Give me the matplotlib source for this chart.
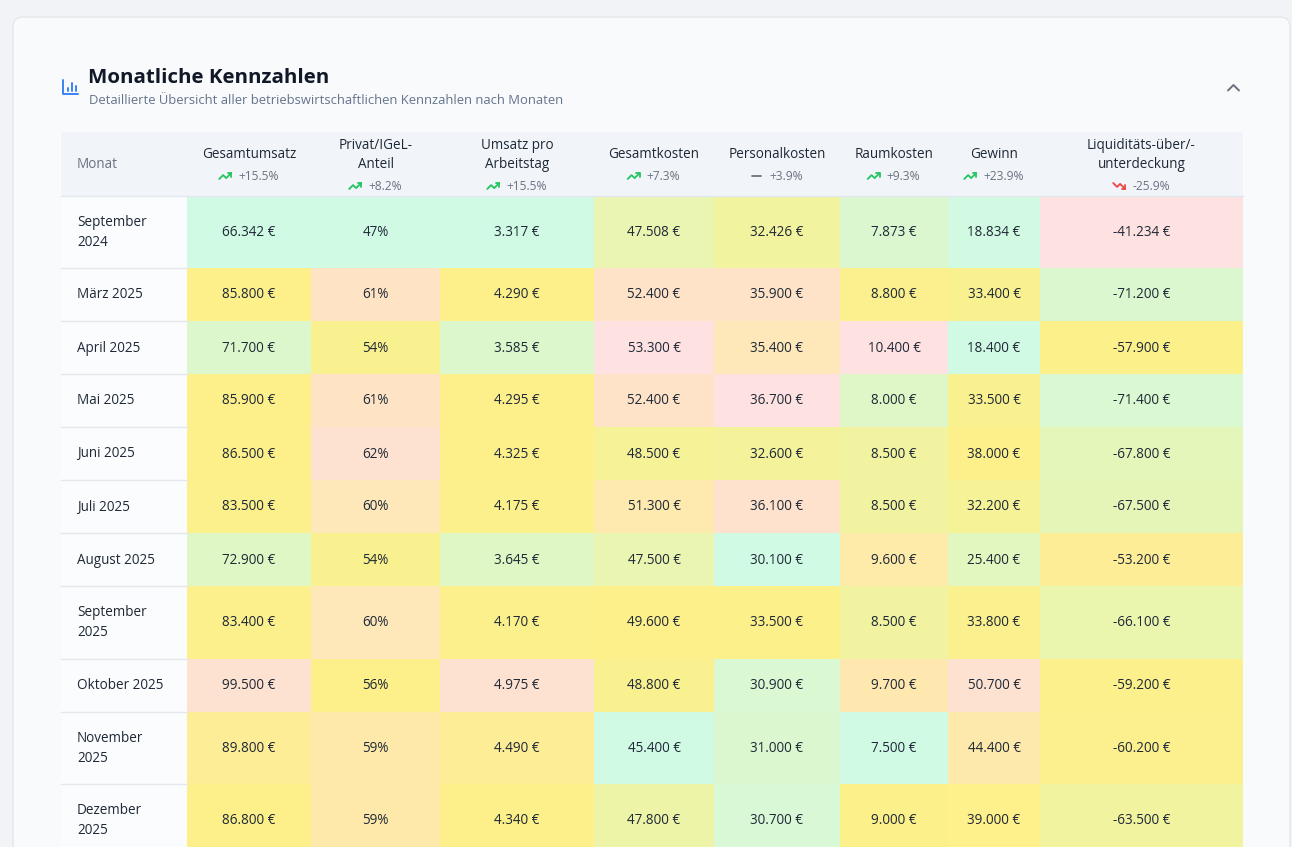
import textwrap

import matplotlib
matplotlib.use("Agg")
import matplotlib.pyplot as plt
from matplotlib.colors import LinearSegmentedColormap, Normalize
from matplotlib.patches import FancyBboxPatch, Rectangle

plt.rcParams["font.family"] = ["Open Sans", "Noto Sans", "DejaVu Sans"]

# ---- data -------------------------------------------------------------
months = ["September 2024", "März 2025", "April 2025", "Mai 2025", "Juni 2025",
          "Juli 2025", "August 2025", "September 2025", "Oktober 2025",
          "November 2025", "Dezember 2025"]
gesamtumsatz = [66342, 85800, 71700, 85900, 86500, 83500, 72900, 83400, 99500, 89800, 86800]
privat_anteil = [47, 61, 54, 61, 62, 60, 54, 60, 56, 59, 59]
umsatz_arbeitstag = [3317, 4290, 3585, 4295, 4325, 4175, 3645, 4170, 4975, 4490, 4340]
gesamtkosten = [47508, 52400, 53300, 52400, 48500, 51300, 47500, 49600, 48800, 45400, 47800]
personalkosten = [32426, 35900, 35400, 36700, 32600, 36100, 30100, 33500, 30900, 31000, 30700]
raumkosten = [7873, 8800, 10400, 8000, 8500, 8500, 9600, 8500, 9700, 7500, 9000]
gewinn = [18834, 33400, 18400, 33500, 38000, 32200, 25400, 33800, 50700, 44400, 39000]
liquiditaet = [-41234, -71200, -57900, -71400, -67800, -67500, -53200, -66100, -59200, -60200, -63500]

headers = ["Gesamtumsatz", "Privat/IGeL-\nAnteil", "Umsatz pro\nArbeitstag", "Gesamtkosten",
           "Personalkosten", "Raumkosten", "Gewinn", "Liquiditäts-über/-\nunterdeckung"]
trends = [15.5, 8.2, 15.5, 7.3, 3.9, 9.3, 23.9, -25.9]

columns = [gesamtumsatz, privat_anteil, umsatz_arbeitstag, gesamtkosten,
           personalkosten, raumkosten, gewinn, liquiditaet]
is_percent = [False, True, False, False, False, False, False, False]

# ---- layout / style ---------------------------------------------------
W, H = 1292, 847
col_edges = [61, 187, 311, 440, 594, 714, 840, 948, 1040, 1243]
header_top, header_bottom = 132, 196
row_h_single, row_h_double = 53, 72.5
# part of the heat scale each column uses (revenue columns stop at peach)
level_range = [(0, 0.92), (0, 0.92), (0, 0.92), (0, 1), (0, 1), (0, 1), (0, 0.92), (0.12, 1)]

heat = LinearSegmentedColormap.from_list("heat", [
    (0.00, "#d1fae5"),
    (0.15, "#dcf7cc"),
    (0.30, "#edf4a8"),
    (0.45, "#fbf08c"),
    (0.60, "#fef08a"),
    (0.72, "#feeaa8"),
    (0.82, "#fee6bc"),
    (0.90, "#fee2cc"),
    (1.00, "#fee2e2"),
])

fig = plt.figure(figsize=(W / 100, H / 100), dpi=100)
fig.patch.set_facecolor("#f1f3f6")
ax = fig.add_axes([0, 0, 1, 1])
ax.set_xlim(0, W)
ax.set_ylim(H, 0)
ax.axis("off")


def px(size):
    """Pixel size to points at 100 dpi."""
    return size * 0.72


# card
ax.add_patch(FancyBboxPatch((13, 17), 1290 - 13, 900, boxstyle="round,pad=0,rounding_size=10",
                            facecolor="#f8fafc", edgecolor="#e5e7eb", linewidth=1, zorder=1))

# title icon (bar chart)
icon_c = "#3b82f6"
ax.plot([63, 63, 78], [80, 94, 94], color=icon_c, lw=1.4, solid_capstyle="round", zorder=3)
for bx, top in [(67.5, 88), (71.5, 83), (75.5, 86)]:
    ax.plot([bx, bx], [top, 91], color=icon_c, lw=1.4, solid_capstyle="round", zorder=3)

ax.text(88, 78, "Monatliche Kennzahlen", fontsize=px(20.5), fontweight="bold",
        color="#111827", va="center", ha="left", zorder=3)
ax.text(89, 100, "Detaillierte Übersicht aller betriebswirtschaftlichen Kennzahlen nach Monaten",
        fontsize=px(13), color="#64748b", va="center", ha="left", zorder=3)

# collapse chevron
ax.plot([1228, 1233.5, 1239], [90.5, 85, 90.5], color="#6b7280", lw=1.4,
        solid_capstyle="round", solid_joinstyle="round", zorder=3)

# header row
ax.add_patch(Rectangle((col_edges[0], header_top), col_edges[-1] - col_edges[0],
                       header_bottom - header_top, facecolor="#f1f5f9", edgecolor="none", zorder=2))
ax.plot([col_edges[0], col_edges[-1]], [header_bottom, header_bottom], color="#e2e8f0", lw=1, zorder=3)
ax.text(77, 164, "Monat", fontsize=px(13.5), color="#6b7280", va="center", ha="left", zorder=3)

renderer = fig.canvas.get_renderer()


def trend_icon(x0, yc, value):
    """Draw a small lucide-style trend icon; x0 is its left edge."""
    s = 0.6
    if value >= 5:
        color = "#22c55e"
        line = [(2, 17), (8.5, 10.5), (13.5, 15.5), (22, 7)]
        head = [(16, 7), (22, 7), (22, 13)]
    elif value <= -5:
        color = "#ef4444"
        line = [(2, 7), (8.5, 13.5), (13.5, 8.5), (22, 17)]
        head = [(16, 17), (22, 17), (22, 11)]
    else:
        color = "#6b7280"
        line = [(5, 12), (19, 12)]
        head = []
    for pts in (line, head):
        if pts:
            ax.plot([x0 + (p[0] - 2) * s for p in pts], [yc + (p[1] - 12) * s for p in pts],
                    color=color, lw=1.3, solid_capstyle="round", solid_joinstyle="round", zorder=4)


for i, (label, tr) in enumerate(zip(headers, trends)):
    xc = (col_edges[i + 1] + col_edges[i + 2]) / 2
    n_lines = label.count("\n") + 1
    ax.text(xc, 155, label, fontsize=px(13.5), color="#1f2937", va="center", ha="center",
            linespacing=1.35, zorder=3)
    ty = 176 + 10 * (n_lines - 1)
    t = ax.text(0, ty, f"{tr:+.1f}%", fontsize=px(12), color="#6b7280", va="center", ha="left", zorder=3)
    tw = t.get_window_extent(renderer).width
    icon_w, gap = 12, 7
    left = xc - (icon_w + gap + tw) / 2
    t.set_x(left + icon_w + gap)
    trend_icon(left, ty, tr)

# body rows
norms = [Normalize(vmin=min(c), vmax=max(c)) for c in columns]
y = header_bottom
for r, month in enumerate(months):
    label = textwrap.fill(month, width=12)
    rh = row_h_double if "\n" in label else row_h_single
    yc = y + rh / 2
    ax.add_patch(Rectangle((col_edges[0], y), col_edges[1] - col_edges[0], rh,
                           facecolor="#fbfcfd", edgecolor="none", zorder=2))
    ax.text(77, yc, label, fontsize=px(13.5), color="#1f2937", va="center", ha="left",
            linespacing=1.45, zorder=3)
    for c, vals in enumerate(columns):
        v = vals[r]
        lo, hi = level_range[c]
        level = lo + norms[c](v) * (hi - lo)
        ax.add_patch(Rectangle((col_edges[c + 1], y), col_edges[c + 2] - col_edges[c + 1], rh,
                               facecolor=heat(level), edgecolor="none", zorder=2))
        txt = f"{v}%" if is_percent[c] else f"{v:,.0f}".replace(",", ".") + " €"
        ax.text((col_edges[c + 1] + col_edges[c + 2]) / 2, yc, txt, fontsize=px(13.5),
                color="#1f2937", va="center", ha="center", zorder=3)
    y += rh
    ax.plot([col_edges[0], col_edges[1]], [y, y], color="#e5e7eb", lw=1, zorder=3)

fig.savefig("out.png", dpi=100, facecolor=fig.get_facecolor())
